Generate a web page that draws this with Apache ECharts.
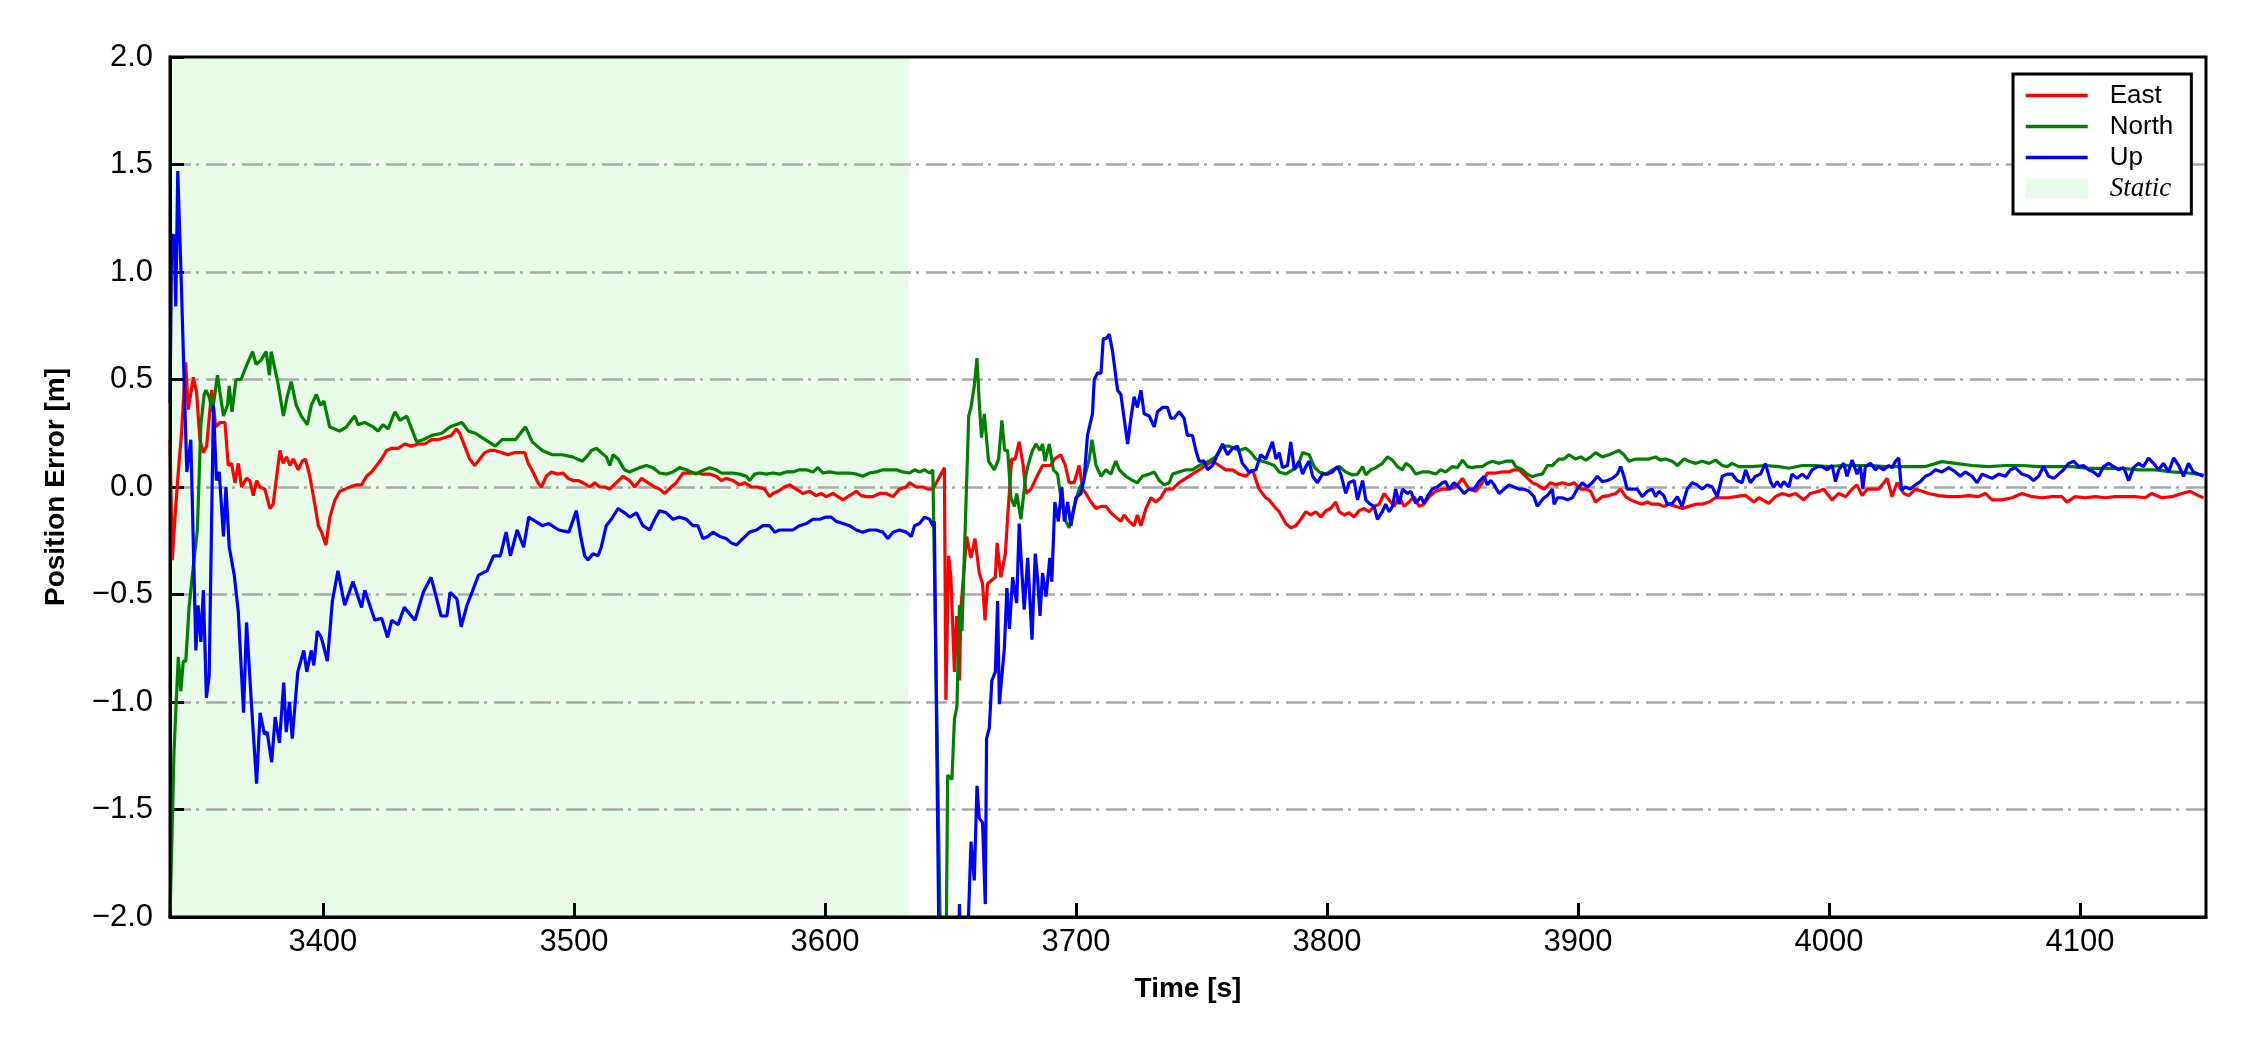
<!DOCTYPE html>
<html>
<head>
<meta charset="utf-8">
<script src="https://cdn.jsdelivr.net/npm/echarts@6/dist/echarts.min.js"></script>
<style>
  html, body { margin: 0; padding: 0; background: #ffffff; }
  #chart { width: 2250px; height: 1050px; }
</style>
</head>
<body>
<div id="chart"></div>
<script>
// ---- data: [time (s), position error (m)] ----
const east = [
[3339.1,0.22],[3340.0,-0.34],[3341.1,-0.14],[3342.4,0.07],[3343.7,0.25],[3345.3,0.58],[3346.4,0.36],[3348.4,0.51],[3349.7,0.44],[3351.0,0.22],[3352.4,0.16],[3353.7,0.19],[3355.7,0.45],[3357.3,0.28],[3359.0,0.30],[3361.0,0.30],[3362.3,0.10],[3363.6,0.11],[3365.0,0.02],[3366.3,0.11],[3367.6,0.00],[3369.6,0.04],[3370.9,0.03],[3372.3,-0.04],[3373.6,0.03],[3374.9,0.00],[3376.9,-0.01],[3378.9,-0.10],[3380.2,-0.08],[3382.9,0.17],[3384.2,0.11],[3385.5,0.14],[3386.9,0.10],[3388.2,0.13],[3390.2,0.08],[3391.8,0.12],[3393.1,0.13],[3394.8,0.05],[3396.8,-0.08],[3398.2,-0.18],[3399.5,-0.21],[3401.2,-0.27],[3402.8,-0.14],[3404.8,-0.06],[3406.8,-0.02],[3408.8,-0.01],[3410.8,0.00],[3413.4,0.01],[3415.4,0.01],[3417.4,0.05],[3419.4,0.07],[3421.4,0.10],[3423.4,0.13],[3425.4,0.17],[3427.3,0.18],[3430.0,0.18],[3432.6,0.20],[3435.3,0.19],[3438.0,0.20],[3440.6,0.20],[3443.3,0.22],[3445.9,0.22],[3448.6,0.23],[3451.2,0.24],[3453.2,0.27],[3454.5,0.25],[3456.5,0.19],[3458.5,0.13],[3460.5,0.10],[3462.5,0.13],[3464.5,0.16],[3466.5,0.17],[3468.5,0.17],[3471.1,0.16],[3473.8,0.15],[3476.4,0.16],[3479.1,0.16],[3480.4,0.16],[3481.8,0.11],[3483.7,0.07],[3485.7,0.02],[3487.1,0.00],[3489.0,0.05],[3491.0,0.07],[3493.7,0.06],
[3495.7,0.065],[3497.7,0.04],[3499.7,0.03],[3501.7,0.03],[3503.6,0.02],[3506.3,0.00],[3508.3,0.02],[3510.3,0.00],[3512.3,0.00],[3514.3,-0.01],[3516.9,0.02],[3519.6,0.05],[3522.2,0.03],[3524.2,0.00],[3526.9,0.04],[3529.5,0.02],[3532.2,0.00],[3534.2,-0.01],[3536.2,-0.03],[3538.8,0.00],[3540.8,0.02],[3543.5,0.065],[3546.1,0.065],[3548.8,0.065],[3551.4,0.06],[3554.1,0.06],[3556.7,0.05],[3558.7,0.03],[3560.7,0.04],[3563.4,0.03],[3566.0,0.01],[3568.0,0.02],[3570.7,0.00],[3573.3,0.00],[3576.0,-0.01],[3578.0,-0.045],[3579.3,-0.03],[3581.3,-0.02],[3583.9,0.00],[3585.9,0.01],[3588.6,-0.01],[3591.2,-0.03],[3593.9,-0.02],[3596.5,-0.04],[3598.5,-0.03],[3600.5,-0.045],[3603.2,-0.03],[3605.2,-0.045],[3607.2,-0.06],[3609.8,-0.04],[3612.5,-0.02],[3614.5,-0.04],[3616.4,-0.045],[3619.1,-0.045],[3621.8,-0.03],[3624.4,-0.03],[3627.1,-0.045],[3629.7,-0.01],[3632.4,0.00],[3633.7,0.02],[3636.3,0.00],[3639.0,0.00],[3641.0,-0.01],[3643.0,-0.01],
[3647.6,0.09],[3648.2,-0.99],[3648.9,-0.99],[3649.3,-0.32],[3650.2,-0.42],[3651.6,-0.86],[3652.5,-0.60],[3653.6,-0.90],[3654.2,-0.56],[3656.5,-0.23],[3658.2,-0.33],[3659.8,-0.24],[3661.5,-0.40],[3662.8,-0.45],[3663.8,-0.62],[3664.8,-0.45],[3666.8,-0.43],[3667.9,-0.42],[3668.6,-0.26],[3670.1,-0.42],[3671.9,-0.31],[3672.8,-0.14],[3674.4,0.13],[3675.8,0.13],[3677.4,0.21],[3679.0,0.10],[3680.1,-0.03],[3682.1,-0.01],[3684.1,0.04],[3686.7,0.10],[3688.7,0.10],[3690.0,0.10],[3691.4,0.13],[3694.0,0.15],[3695.8,0.10],[3697.3,0.02],[3699.3,0.02],[3701.3,0.10],[3702.7,-0.01],[3704.0,-0.03],[3706.0,-0.07],[3708.0,-0.10],[3710.0,-0.09],[3711.9,-0.09],[3713.9,-0.12],[3715.9,-0.14],[3717.9,-0.16],[3719.2,-0.13],[3721.2,-0.16],[3723.2,-0.18],[3724.5,-0.13],[3725.9,-0.18],[3727.9,-0.10],[3729.9,-0.05],[3731.8,-0.07],[3733.8,-0.05],[3735.8,-0.01],[3738.5,-0.01],[3741.1,0.02],[3743.8,0.04],[3746.4,0.06],[3749.1,0.08],[3751.8,0.10],[3754.4,0.12],[3757.1,0.10],[3759.7,0.08],[3762.4,0.08],[3765.0,0.06],[3767.7,0.05],[3770.3,0.08],[3773.0,-0.01],[3775.6,-0.05],
[3777.0,-0.06],[3779.0,-0.09],[3781.0,-0.115],[3783.6,-0.17],[3785.6,-0.19],[3787.6,-0.18],[3789.6,-0.15],[3791.6,-0.115],[3793.6,-0.13],[3795.6,-0.115],[3797.6,-0.14],[3799.6,-0.11],[3801.5,-0.10],[3803.5,-0.07],[3804.9,-0.115],[3806.9,-0.13],[3808.8,-0.12],[3810.8,-0.14],[3812.8,-0.11],[3814.8,-0.10],[3816.8,-0.115],[3818.8,-0.09],[3820.8,-0.08],[3822.8,-0.03],[3824.8,-0.06],[3826.8,-0.09],[3828.8,-0.045],[3830.7,-0.09],[3832.7,-0.07],[3834.7,-0.045],[3836.7,-0.09],[3838.7,-0.08],[3840.7,-0.045],[3843.3,-0.02],[3846.0,-0.01],[3848.7,-0.01],[3851.3,0.00],[3854.0,0.04],[3856.6,-0.01],[3859.3,-0.02],[3861.9,0.02],[3863.9,0.065],[3867.2,0.065],[3869.9,0.07],[3872.5,0.07],[3874.5,0.08],[3876.5,0.08],[3879.2,0.05],[3881.8,0.02],[3883.8,0.01],[3886.5,-0.01],[3889.1,0.02],[3891.1,0.01],[3893.8,0.02],[3896.4,0.01],[3898.4,0.02],[3901.1,-0.01],[3903.1,-0.01],[3905.1,-0.02],[3907.0,-0.07],[3909.7,-0.045],[3912.4,-0.04],[3915.0,-0.03],[3917.0,-0.01],[3919.0,-0.045],[3921.0,-0.06],[3923.0,-0.07],[3925.6,-0.08],[3927.6,-0.07],[3929.6,-0.08],[3932.3,-0.08],[3934.2,-0.09],[3936.2,-0.08],[3938.9,-0.09],[3941.5,-0.10],[3944.2,-0.09],[3946.9,-0.08],[3949.5,-0.08],[3952.2,-0.07],[3954.8,-0.05],[3957.5,-0.05],[3960.1,-0.05],[3962.8,-0.045],[3965.4,-0.04],
[3966.8,-0.04],[3970.1,-0.07],[3972.1,-0.05],[3976.0,-0.076],[3978.7,-0.045],[3981.4,-0.03],[3984.0,-0.04],[3986.7,-0.03],[3990.0,-0.06],[3992.6,-0.03],[3996.0,-0.02],[3997.9,-0.01],[4001.3,-0.06],[4003.9,-0.03],[4006.6,-0.045],[4009.2,-0.01],[4011.2,0.01],[4013.2,-0.04],[4015.2,-0.01],[4017.2,-0.01],[4019.8,-0.01],[4023.2,0.04],[4025.1,-0.045],[4027.1,0.02],[4029.8,-0.03],[4031.8,-0.04],[4034.4,-0.01],[4037.1,-0.02],[4039.7,-0.03],[4043.7,-0.04],[4047.7,-0.045],[4051.7,-0.045],[4055.7,-0.04],[4059.6,-0.045],[4062.3,-0.03],[4065.0,-0.06],[4068.9,-0.06],[4072.9,-0.05],[4076.9,-0.03],[4080.9,-0.045],[4084.9,-0.05],[4088.8,-0.045],[4092.8,-0.045],[4094.8,-0.07],[4098.1,-0.045],[4102.1,-0.05],[4106.1,-0.045],[4110.1,-0.05],[4114.0,-0.045],[4118.0,-0.045],[4122.0,-0.045],[4126.0,-0.05],[4128.6,-0.03],[4132.6,-0.05],[4136.6,-0.045],[4140.6,-0.03],[4143.9,-0.02],[4147.2,-0.04],[4149.2,-0.05]
];

const north = [
[3339.1,-2.0],[3340.7,-1.23],[3342.4,-0.79],[3343.4,-0.95],[3344.4,-0.81],[3345.4,-0.81],[3346.7,-0.56],[3348.0,-0.41],[3350.0,-0.20],[3351.4,0.29],[3352.7,0.43],[3353.4,0.45],[3354.7,0.42],[3356.0,0.35],[3358.0,0.52],[3360.4,0.33],[3362.0,0.38],[3362.7,0.47],[3363.8,0.35],[3365.4,0.50],[3367.4,0.50],[3369.4,0.56],[3372.0,0.63],[3373.4,0.57],[3375.4,0.59],[3377.4,0.63],[3378.7,0.52],[3379.4,0.63],[3382.0,0.49],[3384.3,0.33],[3385.8,0.42],[3387.4,0.49],[3389.4,0.38],[3391.4,0.33],[3393.8,0.29],[3395.4,0.38],[3397.4,0.43],[3399.1,0.38],[3400.4,0.40],[3402.7,0.28],[3404.7,0.27],[3406.7,0.26],[3409.4,0.28],[3412.7,0.33],[3414.0,0.29],[3416.7,0.30],[3420.0,0.28],[3422.0,0.26],[3424.0,0.29],[3426.0,0.27],[3428.7,0.35],[3430.7,0.31],[3433.4,0.33],[3437.4,0.21],[3440.0,0.22],[3443.4,0.24],[3447.4,0.25],[3450.7,0.28],[3455.4,0.30],[3458.0,0.26],[3460.7,0.25],[3463.4,0.23],[3468.7,0.19],[3471.4,0.22],[3474.0,0.22],[3476.7,0.22],[3480.7,0.28],[3483.4,0.21],[3487.4,0.17],[3491.4,0.15],[3495.4,0.15],[3499.4,0.14],[3503.4,0.12],
[3505.0,0.14],[3507.0,0.17],[3509.0,0.18],[3510.9,0.16],[3512.9,0.14],[3514.3,0.10],[3515.6,0.15],[3517.6,0.13],[3520.2,0.08],[3522.2,0.07],[3524.2,0.08],[3526.2,0.09],[3528.9,0.10],[3531.5,0.09],[3534.2,0.065],[3536.8,0.06],[3539.5,0.07],[3542.1,0.09],[3544.8,0.08],[3546.8,0.07],[3548.8,0.06],[3550.1,0.07],[3552.1,0.08],[3554.1,0.09],[3556.7,0.08],[3558.7,0.065],[3560.7,0.065],[3563.4,0.065],[3566.0,0.06],[3568.7,0.05],[3570.0,0.03],[3572.0,0.06],[3574.0,0.065],[3576.6,0.06],[3579.3,0.065],[3581.9,0.06],[3584.6,0.07],[3587.2,0.07],[3589.9,0.08],[3592.6,0.08],[3595.2,0.07],[3597.2,0.09],[3599.2,0.065],[3601.8,0.07],[3604.5,0.065],[3607.2,0.065],[3609.8,0.065],[3612.5,0.06],[3615.1,0.05],[3617.8,0.065],[3620.4,0.07],[3623.1,0.08],[3625.7,0.08],[3628.4,0.08],[3631.0,0.07],[3633.7,0.065],[3635.7,0.08],[3637.7,0.07],[3639.7,0.08],[3641.7,0.065],[3643.0,0.08],
[3643.6,0.075],[3646.3,-2.3],[3648.2,-2.3],[3648.9,-1.34],[3650.6,-1.36],[3651.6,-1.08],[3652.6,-1.02],[3653.6,-0.55],[3654.6,-0.67],[3657.3,0.33],[3658.2,0.37],[3659.5,0.47],[3660.6,0.60],[3661.5,0.39],[3662.4,0.23],[3663.5,0.34],[3665.2,0.12],[3667.5,0.08],[3669.2,0.13],[3670.5,0.31],[3671.6,0.17],[3672.8,0.17],[3674.1,-0.05],[3675.5,-0.09],[3676.4,-0.03],[3678.1,-0.15],[3680.1,0.06],[3681.4,0.12],[3682.7,0.17],[3684.1,0.20],[3685.7,0.17],[3686.7,0.20],[3687.7,0.12],[3689.4,0.20],[3691.0,0.08],[3692.7,0.06],[3694.0,-0.05],[3696.0,-0.16],[3697.3,-0.19],[3699.3,-0.09],[3701.3,-0.01],[3703.3,0.04],[3705.3,0.13],[3706.4,0.22],[3708.0,0.10],[3710.0,0.05],[3711.9,0.08],[3713.9,0.06],[3715.9,0.12],[3717.3,0.08],[3719.9,0.05],[3722.6,0.03],[3724.5,0.02],[3726.5,0.05],[3729.2,0.06],[3731.2,0.07],[3733.2,0.03],[3735.2,0.01],[3737.2,0.02],[3738.5,0.06],[3741.1,0.07],[3743.8,0.08],[3746.4,0.08],[3749.1,0.10],[3753.1,0.12],[3755.7,0.14],[3758.4,0.19],[3761.0,0.19],[3765.0,0.17],[3767.7,0.18],[3769.7,0.16],[3771.7,0.13],[3774.3,0.12],[3777.0,0.11],
[3779.0,0.10],[3781.0,0.07],[3783.6,0.06],[3786.3,0.08],[3788.3,0.095],[3790.3,0.16],[3792.9,0.15],[3794.9,0.095],[3796.9,0.07],[3799.6,0.06],[3802.2,0.08],[3804.9,0.095],[3807.5,0.07],[3810.2,0.056],[3812.2,0.06],[3814.2,0.095],[3815.5,0.056],[3817.5,0.08],[3819.5,0.09],[3822.1,0.11],[3824.1,0.14],[3826.1,0.125],[3828.1,0.095],[3830.1,0.08],[3831.4,0.11],[3833.4,0.095],[3835.4,0.06],[3838.0,0.07],[3840.7,0.07],[3843.3,0.06],[3845.3,0.08],[3847.3,0.07],[3850.0,0.095],[3852.0,0.09],[3854.0,0.125],[3856.0,0.095],[3857.9,0.09],[3859.9,0.095],[3861.9,0.095],[3863.9,0.11],[3865.9,0.12],[3868.6,0.11],[3871.2,0.12],[3873.9,0.12],[3875.2,0.095],[3877.8,0.08],[3879.8,0.06],[3881.8,0.048],[3883.8,0.056],[3885.8,0.06],[3887.8,0.10],[3889.8,0.10],[3892.4,0.13],[3894.4,0.13],[3896.4,0.15],[3899.1,0.13],[3901.1,0.14],[3903.1,0.125],[3905.1,0.14],[3907.0,0.16],[3909.7,0.14],[3912.4,0.15],[3914.3,0.16],[3916.3,0.17],[3918.3,0.15],[3920.3,0.12],[3923.0,0.13],[3925.6,0.13],[3928.3,0.13],[3930.9,0.14],[3932.9,0.125],[3934.9,0.13],[3937.6,0.12],[3939.6,0.10],[3942.2,0.13],[3944.2,0.12],[3946.9,0.11],[3949.5,0.12],[3952.2,0.11],[3954.8,0.125],[3957.5,0.10],[3959.5,0.095],[3961.4,0.11],[3964.1,0.095],
[3969.4,0.095],[3974.7,0.10],[3980.0,0.095],[3984.0,0.087],[3989.3,0.10],[3994.6,0.10],[3999.9,0.095],[4005.2,0.10],[4010.5,0.10],[4017.2,0.10],[4022.5,0.095],[4027.8,0.095],[4033.1,0.095],[4038.4,0.095],[4045.0,0.118],[4050.4,0.11],[4057.0,0.10],[4063.6,0.095],[4070.3,0.10],[4076.9,0.10],[4083.5,0.095],[4090.2,0.095],[4096.8,0.095],[4103.4,0.087],[4110.1,0.087],[4116.7,0.087],[4123.3,0.08],[4130.0,0.08],[4136.6,0.07],[4143.2,0.065],[4149.2,0.055]
];

const up = [
[3339.1,0.39],[3339.8,1.17],[3340.8,1.17],[3341.4,0.84],[3342.2,1.47],[3343.5,0.99],[3345.8,0.07],[3347.4,0.22],[3349.4,-0.76],[3350.3,-0.55],[3351.4,-0.72],[3352.4,-0.48],[3353.6,-0.98],[3354.7,-0.88],[3356.4,0.38],[3357.6,0.03],[3358.7,0.07],[3360.4,-0.23],[3361.4,0.0],[3362.7,-0.28],[3364.7,-0.41],[3366.3,-0.58],[3368.4,-1.05],[3369.6,-0.63],[3371.6,-1.02],[3373.6,-1.38],[3375.0,-1.05],[3376.7,-1.15],[3377.8,-1.14],[3379.6,-1.28],[3381.0,-1.07],[3382.7,-1.19],[3384.4,-0.91],[3385.4,-1.14],[3386.7,-1.0],[3387.8,-1.17],[3390.0,-0.86],[3392.4,-0.76],[3393.6,-0.86],[3395.4,-0.76],[3396.4,-0.83],[3397.8,-0.67],[3399.4,-0.70],[3401.8,-0.81],[3403.8,-0.53],[3406.0,-0.39],[3408.7,-0.55],[3412.0,-0.44],[3415.4,-0.56],[3416.7,-0.48],[3420.7,-0.62],[3423.4,-0.61],[3425.8,-0.70],[3427.4,-0.62],[3430.0,-0.64],[3432.4,-0.56],[3436.7,-0.62],[3440.0,-0.49],[3443.1,-0.42],[3444.7,-0.49],[3447.1,-0.60],[3449.4,-0.60],[3450.7,-0.49],[3453.4,-0.52],[3455.1,-0.65],[3457.4,-0.55],[3459.4,-0.49],[3462.0,-0.41],[3465.4,-0.39],[3468.0,-0.32],[3470.7,-0.32],[3473.0,-0.21],[3474.7,-0.32],[3477.4,-0.20],[3480.0,-0.28],[3482.0,-0.14],[3484.7,-0.16],[3487.4,-0.18],[3490.0,-0.17],[3494.0,-0.20],[3498.0,-0.21],[3501.0,-0.11],[3502.7,-0.23],[3504.3,-0.32],[3505.6,-0.34],
[3507.6,-0.31],[3509.6,-0.32],[3510.9,-0.28],[3512.9,-0.18],[3514.9,-0.15],[3517.6,-0.10],[3520.2,-0.12],[3522.2,-0.14],[3524.9,-0.12],[3527.5,-0.18],[3530.2,-0.20],[3532.2,-0.15],[3534.2,-0.11],[3536.8,-0.12],[3539.5,-0.15],[3542.1,-0.14],[3544.8,-0.15],[3547.4,-0.18],[3549.4,-0.18],[3551.4,-0.24],[3553.4,-0.23],[3555.4,-0.21],[3558.1,-0.23],[3560.7,-0.24],[3562.7,-0.26],[3564.7,-0.27],[3567.3,-0.24],[3570.0,-0.21],[3572.7,-0.20],[3575.3,-0.18],[3578.0,-0.18],[3580.0,-0.21],[3581.9,-0.20],[3584.6,-0.20],[3587.2,-0.20],[3589.9,-0.18],[3592.6,-0.17],[3595.2,-0.15],[3597.9,-0.15],[3600.5,-0.14],[3602.5,-0.14],[3604.5,-0.16],[3607.2,-0.17],[3609.8,-0.18],[3612.5,-0.20],[3615.1,-0.21],[3617.8,-0.20],[3620.4,-0.20],[3623.1,-0.21],[3625.1,-0.24],[3627.1,-0.21],[3629.7,-0.20],[3632.4,-0.21],[3634.4,-0.23],[3635.7,-0.18],[3637.7,-0.17],[3639.7,-0.14],[3641.7,-0.15],[3643.0,-0.18],
[3643.6,-0.16],[3645.6,-2.3],[3650.0,-2.3],[3653.0,-2.3],[3653.6,-1.94],[3654.3,-2.3],[3656.9,-2.1],[3658.2,-1.65],[3659.5,-1.83],[3660.6,-1.39],[3661.5,-1.54],[3662.8,-1.56],[3663.9,-1.94],[3664.4,-1.17],[3665.5,-1.12],[3666.5,-0.90],[3667.9,-0.86],[3668.8,-0.53],[3669.5,-1.01],[3671.5,-0.75],[3672.5,-0.47],[3673.5,-0.66],[3674.8,-0.42],[3676.4,-0.54],[3677.4,-0.17],[3678.5,-0.40],[3679.4,-0.57],[3680.8,-0.33],[3682.5,-0.71],[3683.8,-0.31],[3684.7,-0.42],[3685.7,-0.60],[3686.7,-0.40],[3688.1,-0.51],[3689.6,-0.33],[3690.4,-0.44],[3691.6,-0.07],[3693.0,-0.16],[3694.4,0.00],[3695.4,-0.16],[3696.7,-0.07],[3698.0,-0.18],[3700.0,-0.05],[3702.0,-0.03],[3703.3,0.04],[3704.6,0.24],[3706.6,0.34],[3707.3,0.50],[3708.6,0.53],[3710.0,0.53],[3710.9,0.69],[3711.9,0.69],[3713.3,0.71],[3714.6,0.63],[3716.6,0.45],[3717.9,0.43],[3719.2,0.32],[3720.6,0.20],[3721.9,0.32],[3723.2,0.42],[3724.5,0.37],[3725.9,0.45],[3727.2,0.34],[3729.2,0.33],[3731.2,0.28],[3732.5,0.35],[3734.5,0.37],[3736.5,0.37],[3737.8,0.32],[3739.1,0.32],[3741.1,0.35],[3743.1,0.32],[3744.4,0.24],[3746.4,0.24],[3747.8,0.17],[3749.1,0.12],[3751.1,0.12],[3752.4,0.08],[3754.4,0.10],[3756.4,0.15],[3758.4,0.20],[3760.4,0.15],[3762.4,0.18],[3764.4,0.19],[3766.3,0.11],[3769.0,0.07],[3771.7,0.08],[3773.6,0.15],[3775.6,0.13],[3778.3,0.21],
[3779.7,0.13],[3781.0,0.16],[3782.3,0.09],[3784.3,0.10],[3785.6,0.21],[3787.0,0.08],[3788.9,0.12],[3790.3,0.06],[3791.6,0.095],[3792.9,0.12],[3794.3,0.05],[3796.2,0.02],[3798.2,0.06],[3800.2,0.06],[3802.2,0.07],[3804.2,0.095],[3805.5,0.06],[3807.5,-0.03],[3808.8,0.02],[3810.8,0.03],[3812.2,-0.06],[3814.2,0.03],[3815.5,-0.06],[3816.8,-0.076],[3818.8,-0.09],[3820.1,-0.15],[3822.1,-0.115],[3823.4,-0.08],[3824.8,-0.115],[3826.1,-0.09],[3827.4,-0.01],[3828.8,-0.08],[3830.1,-0.01],[3832.1,-0.03],[3833.4,-0.02],[3835.4,-0.076],[3837.4,-0.045],[3838.7,-0.076],[3840.7,-0.03],[3842.0,-0.01],[3844.0,0.00],[3846.0,0.02],[3847.3,0.025],[3848.7,-0.01],[3850.6,0.02],[3852.6,0.00],[3854.6,-0.03],[3856.6,-0.01],[3858.6,-0.01],[3860.6,0.025],[3862.6,0.05],[3863.9,0.01],[3865.2,0.03],[3866.6,0.01],[3868.6,-0.03],[3870.6,-0.01],[3872.5,0.01],[3874.5,0.00],[3876.5,-0.01],[3878.5,-0.01],[3880.5,-0.02],[3882.5,-0.045],[3883.8,-0.09],[3885.1,-0.07],[3886.5,-0.05],[3887.8,-0.04],[3889.8,-0.01],[3890.5,-0.08],[3891.8,-0.05],[3893.8,-0.05],[3895.8,-0.06],[3897.8,-0.05],[3899.7,-0.01],[3901.7,0.02],[3903.7,0.00],[3905.7,0.02],[3907.7,0.05],[3909.7,0.025],[3911.7,0.03],[3913.7,0.04],[3915.7,0.06],[3917.0,0.095],[3918.3,0.05],[3919.6,-0.01],[3921.6,-0.01],[3923.6,-0.01],[3925.6,-0.045],[3927.6,-0.02],[3929.6,-0.01],[3930.9,-0.045],[3932.3,-0.02],[3934.2,-0.04],[3935.6,-0.08],[3937.6,-0.076],[3939.6,-0.045],[3941.5,-0.09],[3943.5,-0.01],[3945.5,0.02],[3947.5,0.01],[3949.5,-0.01],[3951.5,0.01],[3953.5,0.00],[3955.5,-0.045],[3957.5,0.05],[3959.5,0.06],[3961.4,0.06],[3963.4,0.03],[3965.4,0.02],[3966.8,0.08],
[3968.7,0.02],[3970.7,0.05],[3972.7,0.06],[3974.7,0.11],[3976.7,0.025],[3978.0,0.00],[3979.4,0.025],[3980.7,0.00],[3982.0,0.025],[3984.0,0.00],[3985.3,0.06],[3987.3,0.04],[3989.3,0.06],[3991.3,0.04],[3993.3,0.08],[3995.3,0.095],[3997.3,0.095],[3999.3,0.08],[4001.3,0.10],[4002.6,0.025],[4003.9,0.08],[4005.9,0.11],[4007.2,0.05],[4009.2,0.125],[4011.2,0.06],[4012.5,0.10],[4013.5,-0.01],[4014.5,0.095],[4016.5,0.11],[4018.5,0.08],[4019.8,0.095],[4021.8,0.08],[4023.8,0.10],[4025.1,0.09],[4026.5,0.12],[4027.8,0.135],[4028.9,-0.015],[4030.4,0.00],[4032.4,-0.01],[4034.4,0.01],[4036.4,0.025],[4038.4,0.05],[4040.4,0.06],[4042.4,0.08],[4045.0,0.07],[4047.7,0.09],[4050.4,0.07],[4052.3,0.05],[4054.3,0.07],[4057.0,0.05],[4059.0,0.02],[4061.0,0.06],[4063.0,0.05],[4065.0,0.04],[4067.6,0.06],[4070.3,0.05],[4072.3,0.08],[4074.2,0.09],[4076.9,0.06],[4079.5,0.05],[4081.5,0.03],[4083.5,0.05],[4085.5,0.095],[4087.5,0.05],[4089.5,0.04],[4091.5,0.06],[4093.5,0.08],[4095.5,0.11],[4097.5,0.12],[4099.5,0.095],[4101.4,0.10],[4103.4,0.08],[4105.4,0.07],[4107.4,0.05],[4109.4,0.095],[4111.4,0.11],[4113.4,0.095],[4115.4,0.08],[4117.4,0.09],[4119.4,0.03],[4121.3,0.09],[4123.3,0.11],[4125.3,0.095],[4127.3,0.135],[4129.3,0.11],[4131.3,0.08],[4133.3,0.11],[4135.3,0.07],[4137.3,0.135],[4139.3,0.10],[4141.3,0.05],[4143.2,0.11],[4145.2,0.07],[4147.2,0.06],[4149.2,0.05]
];

const staticSpan = [3339.1, 3633.4];          // static period (s)
const timeRange = [3339.1, 4150.2];           // x-axis extent (s)
const timeTicks = [3400, 3500, 3600, 3700, 3800, 3900, 4000, 4100];
const errRange = [-2.0, 2.0];
const errStep = 0.5;

const chart = echarts.init(document.getElementById('chart'), null, { renderer: 'canvas' });

const tickFont = 'Liberation Sans, Arial, sans-serif';
const seriesDefs = [
  { name: 'East', data: east, color: '#ff0000' },
  { name: 'North', data: north, color: '#008000' },
  { name: 'Up', data: up, color: '#0000ff' }
];

const option = {
  animation: false,
  backgroundColor: '#ffffff',
  grid: {
    left: 170, right: 44, top: 57, bottom: 133,
    show: true, borderColor: '#000000', borderWidth: 3, backgroundColor: 'transparent', z: 10
  },
  xAxis: {
    type: 'value',
    min: timeRange[0], max: timeRange[1],
    name: 'Time [s]',
    nameLocation: 'middle',
    nameGap: 58,
    nameTextStyle: { fontFamily: tickFont, fontSize: 28, fontWeight: 'bold', color: '#000' },
    axisLine: { show: true, onZero: false, lineStyle: { color: '#000', width: 3 } },
    axisTick: { show: true, inside: true, length: 14, lineStyle: { color: '#000', width: 3 }, customValues: timeTicks },
    axisLabel: { show: true, margin: 10, fontFamily: tickFont, fontSize: 31, color: '#000', customValues: timeTicks, formatter: v => String(v) },
    splitLine: { show: false },
    z: 10
  },
  yAxis: {
    type: 'value',
    min: errRange[0], max: errRange[1], interval: errStep,
    name: 'Position Error [m]',
    nameLocation: 'middle',
    nameGap: 100,
    nameTextStyle: { fontFamily: tickFont, fontSize: 28, fontWeight: 'bold', color: '#000' },
    axisLine: { show: true, onZero: false, lineStyle: { color: '#000', width: 3 } },
    axisTick: { show: true, inside: true, length: 14, lineStyle: { color: '#000', width: 3 } },
    axisLabel: {
      show: true, margin: 17, fontFamily: tickFont, fontSize: 31, color: '#000',
      formatter: v => (v < 0 ? '\u2212' : '') + Math.abs(v).toFixed(1)
    },
    splitLine: { show: true, showMinLine: false, showMaxLine: false, lineStyle: { color: '#a9a9a9', width: 2.5, type: [21, 5, 3, 7] } },
    z: 2
  },
  legend: {
    orient: 'vertical',
    left: 2013, top: 74,
    backgroundColor: '#ffffff',
    borderColor: '#000000', borderWidth: 3, borderRadius: 0,
    padding: [8, 18, 12, 11],
    itemWidth: 62, itemHeight: 19, itemGap: 4,
    itemStyle: { opacity: 0 },
    lineStyle: { width: 3.5 },
    textStyle: { fontFamily: tickFont, fontSize: 26, color: '#000', padding: [0, 0, 0, 17], lineHeight: 27 },
    data: [
      { name: 'East' }, { name: 'North' }, { name: 'Up' },
      { name: 'Static', icon: 'rect', itemStyle: { opacity: 1 }, textStyle: { fontFamily: 'Liberation Serif, Times New Roman, serif', fontStyle: 'italic', fontSize: 27 } }
    ],
    z: 20
  },
  series: [
    {
      name: 'Static', type: 'line', data: [], z: 0, zlevel: 0,
      color: '#e9fce9',
      itemStyle: { color: '#e9fce9' },
      lineStyle: { color: '#e9fce9' },
      markArea: {
        silent: true,
        z: 0,
        itemStyle: { color: '#e9fce9' },
        data: [[{ xAxis: staticSpan[0], yAxis: errRange[1] }, { xAxis: staticSpan[1], yAxis: errRange[0] }]]
      }
    }
  ].concat(seriesDefs.map(s => ({
    name: s.name, type: 'line', data: s.data,
    color: s.color, symbol: 'none', showSymbol: false,
    lineStyle: { color: s.color, width: 3.2 },
    clip: true, z: 3
  })))
};

chart.setOption(option);
</script>
</body>
</html>
